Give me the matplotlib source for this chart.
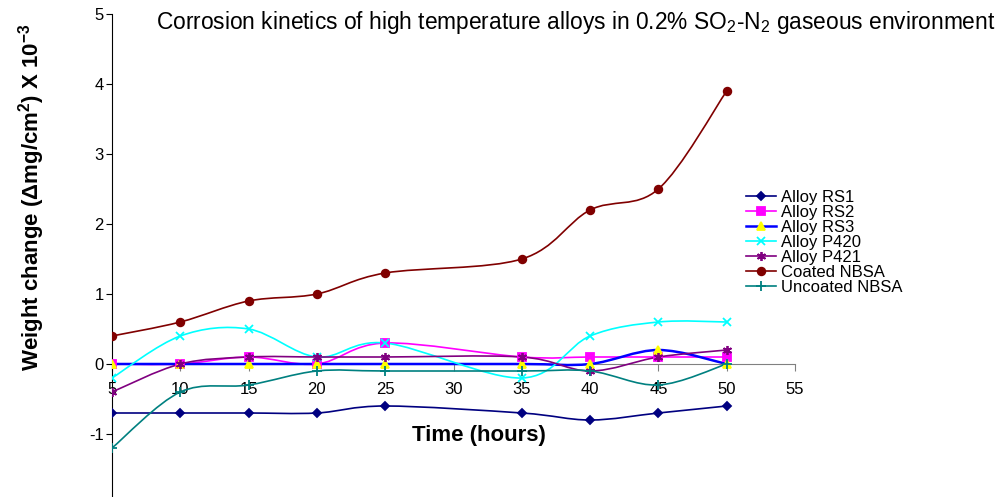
import numpy as np
import matplotlib
matplotlib.use("Agg")
import matplotlib.pyplot as plt
from matplotlib.path import Path
from matplotlib.patches import PathPatch
from matplotlib.lines import Line2D

plt.rcParams['font.family'] = ['Liberation Sans', 'DejaVu Sans']
plt.rcParams['axes.unicode_minus'] = False
plt.rcParams['mathtext.fontset'] = 'custom'
plt.rcParams['mathtext.rm'] = 'Liberation Sans'
plt.rcParams['mathtext.bf'] = 'Liberation Sans:bold'
plt.rcParams['mathtext.default'] = 'regular'

# data (time in hours, weight change x 10^-3)
hours = [5, 10, 15, 20, 25, 35, 40, 45, 50]

rs1 = [-0.7, -0.7, -0.7, -0.7, -0.6, -0.7, -0.8, -0.7, -0.6]
rs2 = [0.0, 0.0, 0.1, 0.0, 0.3, 0.1, 0.1, 0.1, 0.1]
rs3 = [0.0, 0.0, 0.0, 0.0, 0.0, 0.0, 0.0, 0.2, 0.0]
p420 = [-0.2, 0.4, 0.5, 0.1, 0.3, -0.2, 0.4, 0.6, 0.6]
p421 = [-0.4, 0.0, 0.1, 0.1, 0.1, 0.1, -0.1, 0.1, 0.2]
coated = [0.4, 0.6, 0.9, 1.0, 1.3, 1.5, 2.2, 2.5, 3.9]
uncoated = [-1.2, -0.4, -0.3, -0.1, -0.1, -0.1, -0.1, -0.3, 0.0]

series = [
    ("Alloy RS1", rs1, "#000080", "D", "#000080", 4.5, 1.2),
    ("Alloy RS2", rs2, "#FF00FF", "s", "#FF00FF", 5.5, 1.2),
    ("Alloy RS3", rs3, "#0000FF", "^", "#FFFF00", 6, 1.8),
    ("Alloy P420", p420, "#00FFFF", "x", "#00FFFF", 5.5, 1.2),
    ("Alloy P421", p421, "#800080", (6, 2, 0), "#800080", 6.5, 1.2),
    ("Coated NBSA", coated, "#800000", "o", "#800000", 5.5, 1.2),
    ("Uncoated NBSA", uncoated, "#008080", "+", "#008080", 6.5, 1.2),
]


def smooth_path(x, y):
    # Excel-like smoothed line: Catmull-Rom segments as cubic Beziers
    x = np.asarray(x, float)
    y = np.asarray(y, float)
    pts = np.column_stack([x, y])
    verts = [pts[0]]
    codes = [Path.MOVETO]
    n = len(pts)
    for i in range(n - 1):
        p0 = pts[max(i - 1, 0)]
        p1 = pts[i]
        p2 = pts[i + 1]
        p3 = pts[min(i + 2, n - 1)]
        c1 = p1 + (p2 - p0) / 6.0
        c2 = p2 - (p3 - p1) / 6.0
        verts += [c1, c2, p2]
        codes += [Path.CURVE4] * 3
    return Path(verts, codes)


fig = plt.figure(figsize=(10, 4.97), dpi=100)
ax = fig.add_axes([0.112, 0.0, 0.683, 1 - 14 / 497])

handles = []
for name, vals, lc, mk, mc, ms, lw in series:
    ax.add_patch(PathPatch(smooth_path(hours, vals), facecolor="none",
                           edgecolor=lc, lw=lw, zorder=2))
    ax.plot(hours, vals, linestyle="none", marker=mk, markersize=ms,
            markerfacecolor=mc, markeredgecolor=mc, markeredgewidth=1.3, zorder=3)
    handles.append(Line2D([], [], color=lc, lw=lw, marker=mk, markersize=ms,
                          markerfacecolor=mc, markeredgecolor=mc,
                          markeredgewidth=1.3, label=name))

ax.set_xlim(5, 55)
ax.set_ylim(-1.9, 5)
ax.set_xticks(range(5, 56, 5))
ax.set_yticks(range(-1, 6))

for s in ["top", "right"]:
    ax.spines[s].set_visible(False)
ax.spines["bottom"].set_position(("data", 0))
ax.spines["bottom"].set_color("#808080")
ax.spines["bottom"].set_zorder(1)
ax.spines["left"].set_color("black")

ax.tick_params(axis="x", direction="out", length=5, color="#808080",
               labelsize=12, pad=8)
ax.tick_params(axis="y", direction="out", length=4, labelsize=12, pad=2)
ax.patch.set_visible(False)

ax.legend(handles=handles, loc="upper left", bbox_to_anchor=(746 / 1000, 1 - 190 / 497),
          bbox_transform=fig.transFigure, frameon=False, fontsize=12,
          labelspacing=0.0, handlelength=1.8, handletextpad=0.3,
          borderaxespad=0, borderpad=0)

fig.text(156 / 1000, 1 - 23 / 497,
         "Corrosion kinetics of high temperature alloys in 0.2% SO$_2$-N$_2$ gaseous environment",
         fontsize=16.4, ha="left", va="center")
fig.text(479 / 1000, 1 - 435 / 497, "Time (hours)", fontsize=16,
         fontweight="bold", ha="center", va="center")
fig.text(32 / 1000, 1 - 197 / 497,
         r"Weight change ($\mathbf{\Delta}$mg/cm$^\mathbf{2}$) X 10$^\mathbf{-3}$",
         fontsize=16, fontweight="bold", rotation=90, ha="center", va="center")

fig.savefig("out.png", dpi=100)
